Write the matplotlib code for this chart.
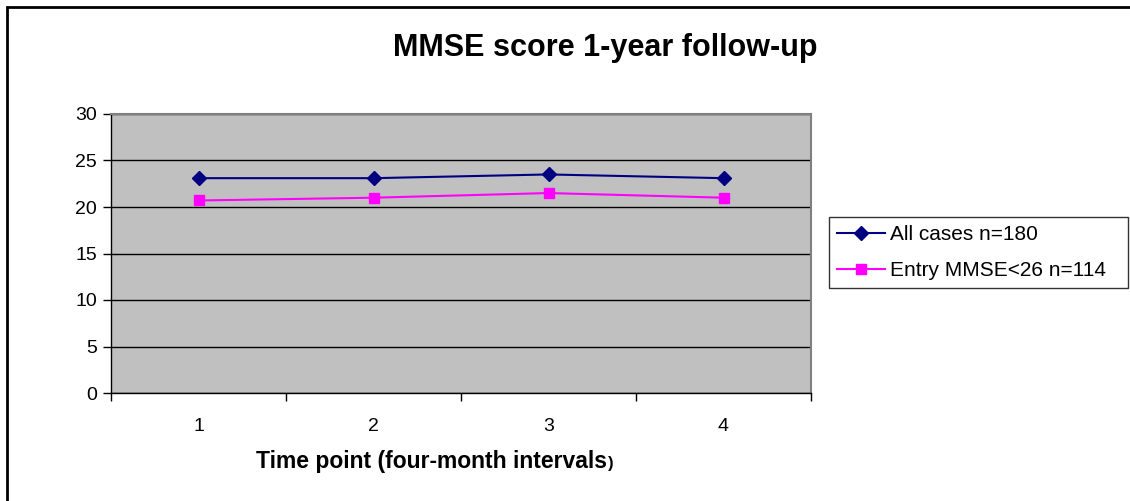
import matplotlib
matplotlib.use("Agg")
import matplotlib.pyplot as plt
from matplotlib.patches import Rectangle

plt.rcParams['font.family'] = ['Liberation Sans', 'DejaVu Sans']

# data
time_points = [1, 2, 3, 4]
all_cases = [23.1, 23.1, 23.5, 23.1]
entry_lt26 = [20.7, 21.0, 21.5, 21.0]
series_labels = ["All cases n=180", "Entry MMSE<26 n=114"]

W, H = 1130, 501
fig = plt.figure(figsize=(W / 100, H / 100), dpi=100)
ax = fig.add_axes([111 / W, 1 - 393 / H, 700 / W, 279 / H])
ax.set_facecolor("#C0C0C0")

# outer frame of the chart
fig.patches.append(Rectangle((7 / W, -0.05), 1.1, 1 - 7 / H + 0.05,
                             transform=fig.transFigure, fill=False,
                             edgecolor="black", linewidth=2))

ax.plot(time_points, all_cases, "-D", color="#000080", markersize=7,
        linewidth=1.5, label=series_labels[0])
ax.plot(time_points, entry_lt26, "-s", color="#FF00FF", markersize=7,
        linewidth=1.5, label=series_labels[1])

ax.set_xlim(0.5, 4.5)
ax.set_ylim(0, 30)
ax.set_yticks(range(0, 31, 5))
ax.set_xticks(time_points)
ax.set_xticks([0.5, 1.5, 2.5, 3.5, 4.5], minor=True)
ax.tick_params(axis="x", which="major", length=0, pad=18, labelsize=14)
ax.tick_params(axis="x", which="minor", length=6, width=1, direction="out")
ax.tick_params(axis="y", length=6, width=1, direction="out", labelsize=14, pad=4)
ax.yaxis.grid(True, color="black", linewidth=1)
ax.set_axisbelow(True)

for side in ["top", "right"]:
    ax.spines[side].set_color("#808080")
    ax.spines[side].set_linewidth(1.5)
for side in ["left", "bottom"]:
    ax.spines[side].set_color("black")
    ax.spines[side].set_linewidth(1)

fig.text(605 / W, 1 - 56 / H, "MMSE score 1-year follow-up",
         ha="center", va="baseline", fontsize=22, fontweight="bold")

xl = fig.text(256 / W, 1 - 468 / H, "Time point (four-month intervals",
              ha="left", va="baseline", fontsize=16.5, fontweight="bold")
fig.canvas.draw()
bb = xl.get_window_extent()
fig.text(bb.x1 / W + 0.001, 1 - 468 / H, ")", ha="left", va="baseline",
         fontsize=12, fontweight="bold")

leg = fig.legend(loc="upper left",
                 bbox_to_anchor=(829 / W, 1 - 217 / H - 0.01, 299 / W, 0.01),
                 mode="expand", frameon=True, fancybox=False, fontsize=15,
                 handlelength=2.3, borderpad=0.4, labelspacing=0.8,
                 handletextpad=0.25, borderaxespad=0)
leg.get_frame().set_edgecolor("black")
leg.get_frame().set_linewidth(1)

fig.savefig("out.png", dpi=100)
